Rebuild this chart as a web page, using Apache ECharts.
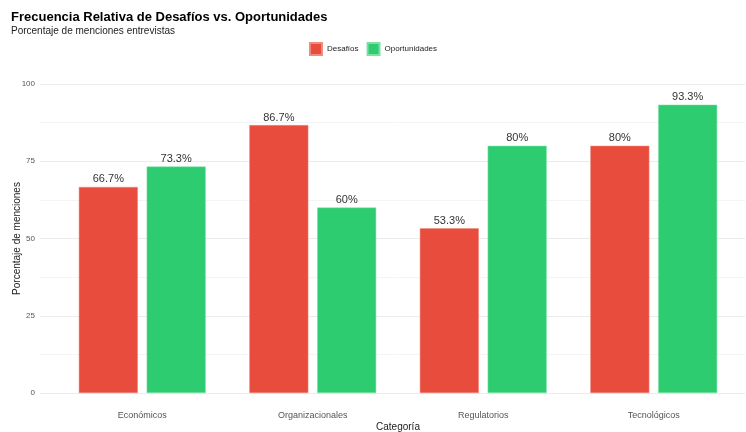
<!DOCTYPE html>
<html><head><meta charset="utf-8">
<script src="https://cdn.jsdelivr.net/npm/echarts@6/dist/echarts.min.js"></script>
<style>html,body{margin:0;padding:0;background:#fff}#c{width:746px;height:432px}</style>
</head><body><div id="c"></div>
<script>
const categories = ['Económicos', 'Organizacionales', 'Regulatorios', 'Tecnológicos'];
const desafios = [66.7, 86.7, 53.3, 80];
const oportunidades = [73.3, 60, 80, 93.3];
const yTicks = [0, 25, 50, 75, 100];

const chart = echarts.init(document.getElementById('c'));
const F = 'Liberation Sans, Arial, sans-serif';
const lbl = {show: true, position: 'top', distance: 2, fontFamily: F, fontSize: 11, color: '#333',
  formatter: p => p.value + '%'};
chart.setOption({
  animation: false,
  textStyle: {fontFamily: F},
  title: {text: 'Frecuencia Relativa de Desafíos vs. Oportunidades', subtext: 'Porcentaje de menciones entrevistas',
    left: 6, top: 6, itemGap: 2,
    textStyle: {fontSize: 13, fontWeight: 'bold', color: '#000', fontFamily: F},
    subtextStyle: {fontSize: 10, color: '#222', fontFamily: F}},
  legend: {data: ['Desafíos', 'Oportunidades'], left: 'center', top: 37, itemWidth: 12, itemHeight: 12, itemGap: 8,
    icon: 'rect', textStyle: {fontSize: 8, color: '#222', fontFamily: F}},
  grid: [
    {left: 57, right: 7, top: 84, bottom: 39, outerBoundsMode: 'none', containLabel: false},
    {left: 40, right: 1, top: 84, bottom: 39, outerBoundsMode: 'none', containLabel: false}
  ],
  xAxis: [
    {type: 'category', data: categories, gridIndex: 0,
     axisLine: {show: false}, axisTick: {show: false},
     axisLabel: {fontSize: 9, color: '#555', margin: 18, fontFamily: F},
     name: 'Categoría', nameLocation: 'middle', nameGap: 29, nameMoveOverlap: false,
     nameTextStyle: {fontSize: 10, color: '#222', fontFamily: F}},
    {type: 'value', gridIndex: 1, show: false, min: 0, max: 1}
  ],
  yAxis: [
    {type: 'value', gridIndex: 0, min: 0, max: 100, interval: 25, show: false},
    {type: 'value', gridIndex: 1, min: 0, max: 100, interval: 25,
     axisLine: {show: false}, axisTick: {show: false},
     axisLabel: {fontSize: 8, color: '#555', margin: 5, fontFamily: F,
       formatter: v => yTicks.includes(v) ? String(v) : ''},
     splitLine: {lineStyle: {color: '#ebebeb', width: 1}},
     minorTick: {show: false, splitNumber: 2},
     minorSplitLine: {show: true, lineStyle: {color: '#f4f4f4', width: 1}},
     name: 'Porcentaje de menciones', nameLocation: 'middle', nameGap: 18, nameRotate: 90, nameMoveOverlap: false,
     nameTextStyle: {fontSize: 10, color: '#222', fontFamily: F}}
  ],
  series: [
    {name: 'Desafíos', type: 'bar', data: desafios, xAxisIndex: 0, yAxisIndex: 0,
     barWidth: 59, barGap: '15%', itemStyle: {color: '#E74C3C', borderColor: '#f08a80', borderWidth: 0.5}, label: lbl},
    {name: 'Oportunidades', type: 'bar', data: oportunidades, xAxisIndex: 0, yAxisIndex: 0,
     barWidth: 59, barGap: '15%', itemStyle: {color: '#2ECC71', borderColor: '#7fe0a6', borderWidth: 0.5}, label: lbl}
  ]
});
</script></body></html>
